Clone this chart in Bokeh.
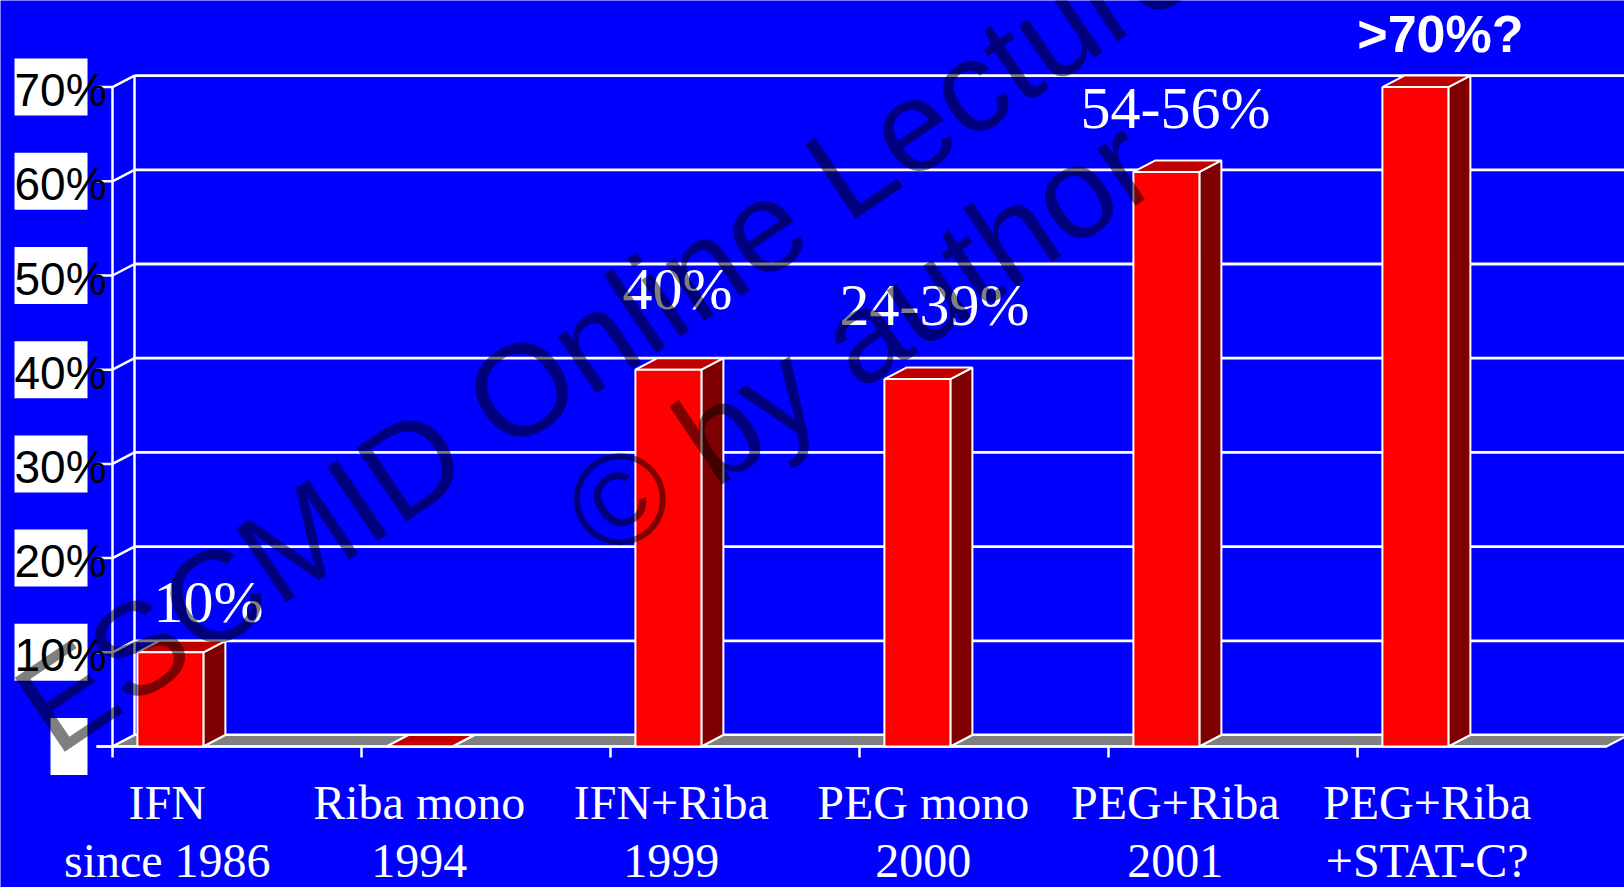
import numpy as np
from bokeh.plotting import figure
from bokeh.models import Range1d
from bokeh.core.properties import value
from bokeh.embed import file_html
from bokeh.resources import INLINE

# ---- data -------------------------------------------------------------
therapy = ["IFN", "Riba mono", "IFN+Riba", "PEG mono", "PEG+Riba", "PEG+Riba"]
therapy_year = ["since 1986", "1994", "1999", "2000", "2001", "+STAT-C?"]
response_pct = [10, 0, 40, 39, 61, 70]

y_ticks = [0, 10, 20, 30, 40, 50, 60, 70]
y_tick_labels = ["", "10%", "20%", "30%", "40%", "50%", "60%", "70%"]

note_text = ["10%", "40%", "24-39%", "54-56%"]
note_x = [0.386, 2.269, 3.301, 4.269]
note_y = [15.3, 48.6, 46.9, 67.8]

outlook_text = [">70%?"]
outlook_x = [5.333]
outlook_y = [75.6]

# ---- geometry of the pseudo-3D frame ----------------------------------
PX = 1 / 249.0          # x units per screen pixel (one category = 249 px)
PY = 1 / 9.42           # percent per screen pixel
DX = 22 * PX            # depth offset to the back wall
DY = 11.5 * PY
BAR_L, BAR_R = 0.10, 0.365
N = len(response_pct)

BLUE = "#0000FF"
p = figure(width=1624, height=887,
           x_range=Range1d(-112 * PX, 1512 * PX),
           y_range=Range1d(-141 * PY, 746 * PY),
           x_axis_type=None, y_axis_type=None,
           output_backend="svg", toolbar_location=None, min_border=0,
           background_fill_color=BLUE, border_fill_color=BLUE,
           outline_line_color=None)
p.grid.visible = False

x_end = 1700 * PX

# back wall gridlines
p.multi_line(xs=[[DX, x_end] for _ in y_ticks],
             ys=[[t + DY, t + DY] for t in y_ticks],
             line_color="white", line_width=2.8)

# left wall: verticals, diagonals and outer ticks
wall_xs = [[0, 0], [DX, DX]]
wall_ys = [[0, y_ticks[-1]], [DY, y_ticks[-1] + DY]]
for t in y_ticks:
    wall_xs.append([-16 * PX, 0, DX])
    wall_ys.append([t, t, t + DY])
p.multi_line(xs=wall_xs, ys=wall_ys, line_color="white", line_width=2.5)

# floor
p.patch(x=[0, N, N + DX, DX], y=[0, 0, DY, DY],
        fill_color="#808080", line_color="white", line_width=2)

# front baseline and category ticks
p.line(x=[-16 * PX, N], y=[0, 0], line_color="white", line_width=2.5)
p.segment(x0=list(range(N)), y0=[0] * N, x1=list(range(N)), y1=[-11 * PY] * N,
          line_color="white", line_width=2.5)

# bars: side, top and front faces
side_xs, side_ys, top_xs, top_ys = [], [], [], []
fl, fr = [], []
for i, v in enumerate(response_pct):
    x0, x1 = i + BAR_L, i + BAR_R
    fl.append(x0)
    fr.append(x1)
    side_xs.append([x1, x1 + DX, x1 + DX, x1])
    side_ys.append([0, DY, v + DY, v])
    top_xs.append([x0, x0 + DX, x1 + DX, x1])
    top_ys.append([v, v + DY, v + DY, v])
p.patches(xs=side_xs, ys=side_ys, fill_color="#7F0000",
          line_color="white", line_width=2)
p.patches(xs=top_xs, ys=top_ys, fill_color="#C00000",
          line_color="white", line_width=2)
p.quad(left=fl, right=fr, bottom=[0] * N, top=response_pct,
       fill_color="#FF0000", line_color="white", line_width=2)

# y tick labels on white boxes
box_right = -25 * PX
box_left = [box_right - (37 if lab == "" else 73) * PX for lab in y_tick_labels]
p.quad(left=box_left, right=[box_right] * len(y_ticks),
       bottom=[t - 28.5 * PY for t in y_ticks],
       top=[t + 28.5 * PY for t in y_ticks],
       fill_color="white", line_color=None)
p.text(x=[-98 * PX] * len(y_ticks), y=[t - 3 * PY for t in y_ticks],
       text=y_tick_labels, text_color="black", text_align="left",
       text_baseline="alphabetic", text_font=value("Liberation Sans"),
       text_font_size=value("46px"))

# category labels (two lines)
label_x = [i * 1.012 + 0.22 for i in range(N)]
p.text(x=label_x, y=[-56 * PY] * N, text=therapy, text_color="white",
       text_align="center", text_baseline="alphabetic",
       text_font=value("Liberation Serif"), text_font_size=value("48px"))
p.text(x=label_x, y=[-114 * PY] * N, text=therapy_year, text_color="white",
       text_align="center", text_baseline="alphabetic",
       text_font=value("Liberation Serif"), text_font_size=value("48px"))

# response notes above the bars
p.text(x=note_x, y=note_y, text=note_text, text_color="white",
       text_align="center", text_baseline="alphabetic",
       text_font=value("Liberation Serif"), text_font_size=value("60px"))
p.text(x=outlook_x, y=outlook_y, text=outlook_text, text_color="white",
       text_align="center", text_baseline="alphabetic",
       text_font=value("Liberation Sans"), text_font_style="bold",
       text_font_size=value("52px"))

# copyright watermark
p.text(x=[(785 - 112) * PX, (859 - 112) * PX],
       y=[(746 - 211) * PY, (746 - 337) * PY],
       text=["ESCMID Online Lecture Library", "\u00a9 by author"],
       angle=np.deg2rad(34), text_align="center", text_baseline="alphabetic",
       text_color="black", text_alpha=0.5,
       text_font=value("Liberation Sans"), text_font_size=value("130px"))

open("out.html", "w").write(file_html(p, INLINE))
